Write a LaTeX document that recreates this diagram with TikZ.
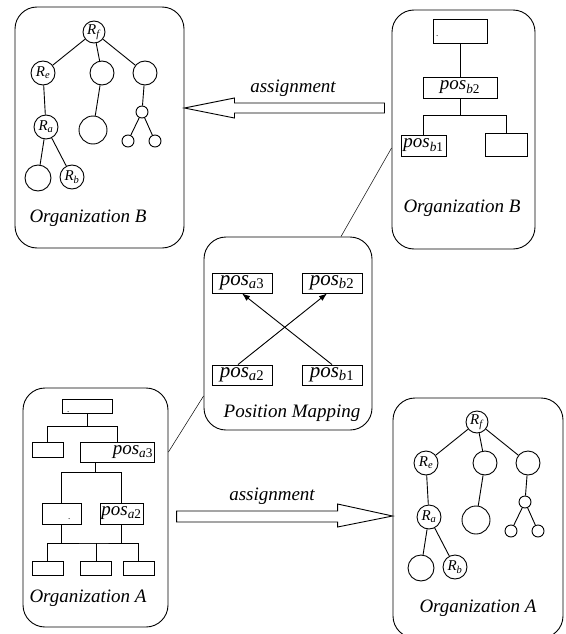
\documentclass[tikz,border=0pt]{standalone}
\usepackage{fontspec}
\setmainfont{Liberation Serif}
\usetikzlibrary{positioning,arrows.meta}
\newcommand{\rolename}[1]{\textit{R}\textsubscript{\textit{#1}}}
\newcommand{\posname}[2]{\textit{pos}\textsubscript{\textit{#1}#2}}
\newcommand{\roletree}{%
  \node[role, minimum size=22pt] (rf) at (94,32) {\rolename{f}};
  \node[role, minimum size=24pt] (re) at (43,73) {\rolename{e}};
  \node[role, minimum size=24pt] (m1) at (102,73) {};
  \node[role, minimum size=24pt] (m2) at (145,73) {};
  \node[role, minimum size=24pt] (ra) at (46,127) {\rolename{a}};
  \node[role, minimum size=28pt] (m3) at (93,130) {};
  \node[role, minimum size=12pt] (s1) at (142,112) {};
  \node[role, minimum size=12pt] (s2) at (128,141) {};
  \node[role, minimum size=12pt] (s3) at (155,141) {};
  \node[role, minimum size=26pt] (bl) at (38,178) {};
  \node[role, minimum size=24pt] (rb) at (72,177) {\rolename{b}};
  \draw (rf) edge (re) (rf) edge (m1) (rf) edge (m2) (re) edge (ra) (m1) edge (m3)
        (m2) edge (s1) (s1) edge (s2) (s1) edge (s3) (ra) edge (bl) (ra) edge (rb);
}
\tikzset{ %
  ,>={Latex[length=8pt,width=6pt]}
  ,every path/.style={line width=0.9pt}
  ,org/.style={draw, rounded corners=22pt, inner sep=0}
  ,role/.style={draw, circle, inner sep=0, font=\fontsize{15}{16}\selectfont}
  ,unit/.style={draw, rectangle, inner sep=0, font=\fontsize{19}{21}\selectfont}
  ,mapbox/.style={unit, minimum width=60pt, minimum height=20pt, font=\fontsize{21}{23}\selectfont}
  ,caption/.style={inner sep=0, font=\fontsize{19}{22}\selectfont\itshape}
  ,hollow/.style={draw, fill=white}
  ,dotmark/.style={inner sep=0, font=\small}
}
\begin{document}
\begin{tikzpicture}[x=1pt, y=-1pt]
  \useasboundingbox (0,0) rectangle (565,634);
  % the five panels
  \node[org, minimum width=169pt, minimum height=241pt] (orgBl) at (99.5,127.5) {};
  \node[org, minimum width=143pt, minimum height=239pt] (orgBr) at (463.5,129.5) {};
  \node[org, minimum width=168pt, minimum height=193pt] (posmap) at (288,333.5) {};
  \node[org, minimum width=145pt, minimum height=239pt] (orgAl) at (95.5,507.5) {};
  \node[org, minimum width=170pt, minimum height=240pt] (orgAr) at (478,518) {};

  % role trees
  \begin{scope}[name prefix=Bl-]
    \roletree
  \end{scope}
  \begin{scope}[shift={(383,390)}, name prefix=Ar-]
    \roletree
  \end{scope}

  % organization B, positions
  \node[unit, minimum width=54pt, minimum height=24pt] (topB) at (460,31) {};
  \node[dotmark, above right=6pt and 3pt of topB.south west] (dotB) {.};
  \node[unit, minimum width=74pt, minimum height=21pt] (pb2) at (460,87.5) {\posname{b}{2}};
  \node[unit, minimum width=45pt, minimum height=21pt] (pb1) at (423.5,145.5) {\posname{b}{1}};
  \node[unit, minimum width=42pt, minimum height=23pt] (rtB) at (506,144.5) {};
  \coordinate (busB) at (460,115);
  \draw (topB) -- (pb2) (pb2) -- (busB) -| (pb1) (busB) -| (rtB);

  % organization A, positions
  \node[unit, minimum width=50pt, minimum height=14pt] (topA) at (87,406) {};
  \node[dotmark, above right=0pt and 5pt of topA.south west] (dotA1) {.};
  \node[unit, minimum width=31pt, minimum height=15pt] (ltA) at (47.5,449.5) {};
  \node[unit, minimum height=20pt, text width=72pt, inner xsep=1pt, align=right] (pa3) at (117,452) {\posname{a}{3}};
  \node[unit, minimum width=39pt, minimum height=21pt] (mlA) at (61.5,513.5) {};
  \node[dotmark, above right=4pt and 26pt of mlA.south west] (dotA2) {.};
  \node[unit, minimum width=43pt, minimum height=21pt] (pa2) at (121.5,513.5) {\posname{a}{2}};
  \foreach \n/\x in {1/47.5, 2/96, 3/138.5}
    \node[unit, minimum width=31pt, minimum height=14pt] (bA\n) at (\x,568) {};
  \coordinate (busA1) at (87,426);
  \coordinate (busA2) at (95,472);
  \coordinate (busA3) at (96,543);
  \draw (topA) -- (busA1) -| (ltA) (busA1) -| (pa3);
  \draw (pa3.south -| busA2) -- (busA2) -| (mlA) (busA2) -| (pa2);
  \draw (mlA) |- (busA3) -| (pa2);
  \draw (bA1) |- (busA3) -| (bA3) (busA3) -- (bA2);

  % position mapping
  \node[mapbox] (ma3) at (242,283) {\posname{a}{3}};
  \node[mapbox] (mb2) at (332,283) {\posname{b}{2}};
  \node[mapbox] (ma2) at (242,375) {\posname{a}{2}};
  \node[mapbox] (mb1) at (332,375) {\posname{b}{1}};
  \draw[->] ([xshift=-4pt]ma2.north) -- ([xshift=-5pt]mb2.south);
  \draw[->] (mb1.north) -- (ma3.south);

  % zoom lines
  \draw[line width=0.5pt] ([xshift=53pt]posmap.north) -- ([yshift=-18.5pt]orgBr.west);
  \draw[line width=0.5pt] ([yshift=55.5pt]orgAl.east) -- ([yshift=-62.5pt]posmap.west);

  % assignment arrows
  \draw[hollow] (orgBl.east |- 0,108) -- ++(50,-10) -- ++(0,5) -- ++(150,0) -- ++(0,10)
    -- ++(-150,0) -- ++(0,5) -- cycle;
  \draw[hollow] (orgAr.west |- 0,516) -- ++(-55,-12) -- ++(0,7) -- ++(-161,0) -- ++(0,11)
    -- ++(161,0) -- ++(0,5) -- cycle;
  \node[caption] (asgB) at (293,88) {assignment};
  \node[caption] (asgA) at (272,496) {assignment};

  % captions
  \node[caption] (capBl) at (88,218) {Organization B};
  \node[caption] (capBr) at (462,208) {Organization B};
  \node[caption] (capPm) at (292,413) {Position Mapping};
  \node[caption] (capAl) at (88,598) {Organization A};
  \node[caption] (capAr) at (478,608) {Organization A};
\end{tikzpicture}
\end{document}
